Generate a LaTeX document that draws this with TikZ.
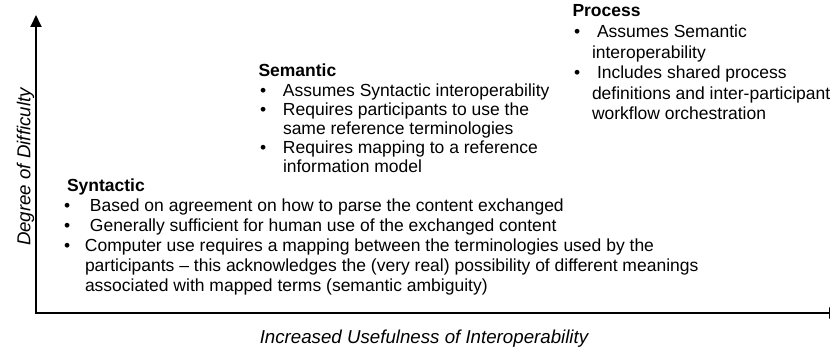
\documentclass[tikz,border=0pt]{standalone}
\usepackage{fontspec}
\setmainfont{Liberation Sans}
\usetikzlibrary{arrows.meta}
\newcommand\blkfont{\fontsize{17.5}{20}\selectfont}
\newcommand\axfont{\fontsize{18.7}{22}\selectfont\itshape}
% bullet line: #1 bullet offset, #2 text offset, #3 text
\newcommand\bulline[3]{\hbox{\rlap{\hspace*{#1}•}\hspace*{#2}#3}}
% continuation line: #1 text offset, #2 text
\newcommand\contline[2]{\hbox{\hspace*{#1}#2}}
\begin{document}
\begin{tikzpicture}[x=1pt,y=1pt,
  every node/.style={inner sep=0pt, outer sep=0pt},
  block/.style={anchor=base west, font=\blkfont},
  axislabel/.style={font=\axfont},
  axis/.style={line width=1.8pt, line join=miter,
    {Triangle[length=12pt,width=11pt]}-{Triangle[length=12pt,width=11pt]}}]
\useasboundingbox (0,0) rectangle (830,350);
\coordinate (origin) at (36,37);
\coordinate (ytip) at (36,335);
\coordinate (xtip) at (841,37);
\draw[axis] (ytip) -- (origin) -- (xtip);

\node[axislabel, rotate=90, anchor=base] (ylab) at (30.5,183) {Degree of Difficulty};
\node[axislabel, anchor=base] (xlab) at (424,6.5) {Increased Usefulness of Interoperability};

\node[block] (syn) at (67,158) {\vtop{\baselineskip=20pt\lineskiplimit=-20pt
  \hbox{\textbf{Syntactic}}
  \bulline{-3pt}{23pt}{Based on agreement on how to parse the content exchanged}
  \bulline{-3pt}{23pt}{Generally sufficient for human use of the exchanged content}
  \bulline{-3pt}{18pt}{Computer use requires a mapping between the terminologies used by the}
  \contline{18pt}{participants \textendash{} this acknowledges the (very real) possibility of different meanings}
  \contline{18pt}{associated with mapped terms (semantic ambiguity)}}};

\node[block] (sem) at (258.5,273) {\vtop{\baselineskip=19.2pt\lineskiplimit=-20pt
  \hbox{\textbf{Semantic}}
  \bulline{1.5pt}{24.5pt}{Assumes Syntactic interoperability}
  \bulline{1.5pt}{24.5pt}{Requires participants to use the}
  \contline{24.5pt}{same reference terminologies}
  \bulline{1.5pt}{24.5pt}{Requires mapping to a reference}
  \contline{24.5pt}{information model}}};

\node[block] (proc) at (572.5,333) {\vtop{\baselineskip=20.6pt\lineskiplimit=-20pt
  \hbox{\textbf{Process}}
  \bulline{1.5pt}{24.5pt}{Assumes Semantic}
  \contline{19.5pt}{interoperability}
  \bulline{1.5pt}{24.5pt}{Includes shared process}
  \contline{19.5pt}{definitions and inter-participant}
  \contline{19.5pt}{workflow orchestration}}};
\end{tikzpicture}
\end{document}
